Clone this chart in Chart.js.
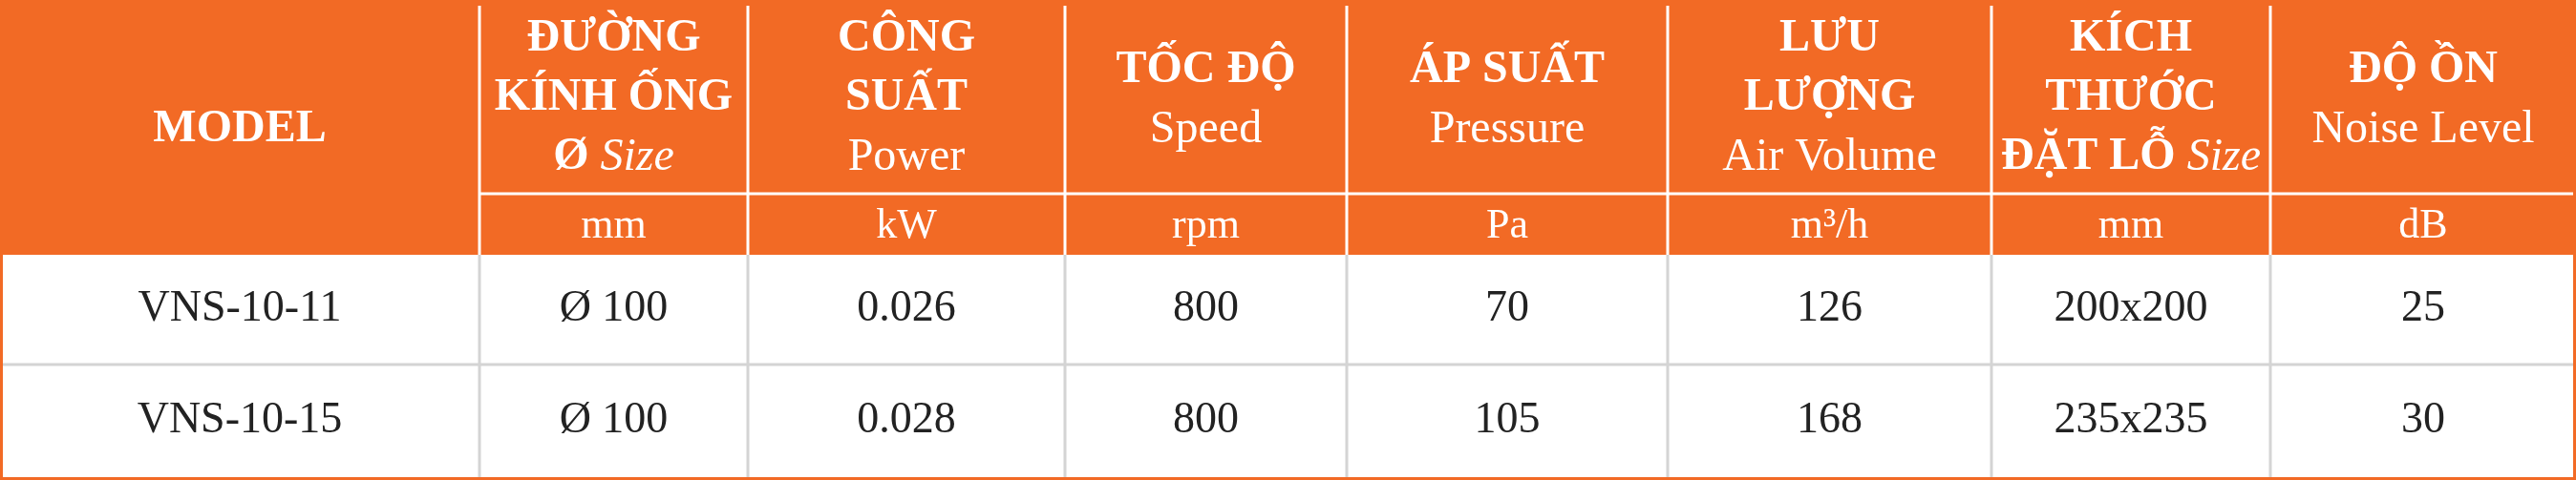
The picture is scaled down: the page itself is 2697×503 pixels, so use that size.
<!DOCTYPE html>
<html><head><meta charset="utf-8">
<script src="https://cdn.jsdelivr.net/npm/chart.js@4"></script>
<style>html,body{margin:0;padding:0;background:#fff}#w{width:2697px;height:503px}</style>
</head><body><div id="w"><canvas id="c"></canvas></div>
<script>
// header lines per column: segments "b:" bold, "r:" regular, "i:" italic
const headers = [
  [["b:MODEL"]],
  [["b:ĐƯỜNG"],["b:KÍNH ỐNG"],["b:Ø ","i:Size"]],
  [["b:CÔNG"],["b:SUẤT"],["r:Power"]],
  [["b:TỐC ĐỘ"],["r:Speed"]],
  [["b:ÁP SUẤT"],["r:Pressure"]],
  [["b:LƯU"],["b:LƯỢNG"],["r:Air Volume"]],
  [["b:KÍCH"],["b:THƯỚC"],["b:ĐẶT LỖ ","i:Size"]],
  [["b:ĐỘ ỒN"],["r:Noise Level"]]
];
const units = ["", "mm", "kW", "rpm", "Pa", "m³/h", "mm", "dB"];
const models = ["VNS-10-11", "VNS-10-15"];
const diameter = ["Ø 100", "Ø 100"];
const power = ["0.026", "0.028"];
const speed = ["800", "800"];
const pressure = ["70", "105"];
const airVolume = ["126", "168"];
const holeSize = ["200x200", "235x235"];
const noise = ["25", "30"];

// layout (pixel geometry, not data)
const colEdges = [0, 502, 783, 1115, 1410, 1746, 2085, 2377, 2697];
const ORANGE = "#F26A25";
const FONT = "'Liberation Serif', 'Times New Roman', serif";

const tablePlugin = {
  id: "table",
  afterDraw(chart) {
    const ctx = chart.ctx, xs = chart.scales.x, ys = chart.scales.y;
    const X = v => xs.getPixelForValue(v), Y = v => ys.getPixelForValue(v);
    const rows = models.map((m, i) => [m, diameter[i], power[i], speed[i], pressure[i], airVolume[i], holeSize[i], noise[i]]);
    ctx.save();
    ctx.fillStyle = ORANGE;
    ctx.fillRect(X(0), Y(0), X(2697) - X(0), Y(267) - Y(0));
    ctx.fillStyle = "#fff";
    ctx.fillRect(X(0), Y(267), X(2697) - X(0), Y(503) - Y(267));
    ctx.strokeStyle = "#fff"; ctx.lineWidth = 3;
    ctx.beginPath();
    for (let i = 1; i < colEdges.length - 1; i++) { ctx.moveTo(X(colEdges[i]), Y(6)); ctx.lineTo(X(colEdges[i]), Y(267)); }
    ctx.moveTo(X(colEdges[1]), Y(203)); ctx.lineTo(X(2697), Y(203));
    ctx.stroke();
    ctx.strokeStyle = "#d4d4d4"; ctx.lineWidth = 3;
    ctx.beginPath();
    for (let i = 1; i < colEdges.length - 1; i++) { ctx.moveTo(X(colEdges[i]), Y(267)); ctx.lineTo(X(colEdges[i]), Y(500)); }
    ctx.moveTo(X(0), Y(382)); ctx.lineTo(X(2697), Y(382));
    ctx.stroke();
    ctx.strokeStyle = ORANGE; ctx.lineWidth = 3;
    ctx.strokeRect(X(0) + 1.5, Y(0) + 1.5, X(2697) - X(0) - 3, Y(503) - Y(0) - 3);
    ctx.textBaseline = "middle";
    const size = 48;
    const fontFor = s => (s === "b" ? "bold " : s === "i" ? "italic " : "") + size + "px " + FONT;
    headers.forEach((lines, c) => {
      const cx = (X(colEdges[c]) + X(colEdges[c + 1])) / 2;
      let ysPos = lines.length === 3 ? [41, 103, 165] : lines.length === 2 ? [74, 136] : [136];
      lines.forEach((segs, li) => {
        const parts = segs.map(s => ({ st: s[0], t: s.slice(2) }));
        let w = 0;
        parts.forEach(p => { ctx.font = fontFor(p.st); p.w = ctx.measureText(p.t).width; w += p.w; });
        let x = cx - w / 2;
        ctx.fillStyle = "#fff"; ctx.textAlign = "left";
        parts.forEach(p => { ctx.font = fontFor(p.st); ctx.fillText(p.t, x, Y(ysPos[li])); x += p.w; });
      });
    });
    ctx.textAlign = "center";
    ctx.font = "44px " + FONT;
    units.forEach((u, c) => { ctx.fillStyle = "#fff"; ctx.fillText(u, (X(colEdges[c]) + X(colEdges[c + 1])) / 2, Y(237)); });
    const rowY = [324, 441];
    ctx.fillStyle = "#222";
    ctx.font = "46px " + FONT;
    rows.forEach((r, ri) => r.forEach((v, c) => ctx.fillText(v, (X(colEdges[c]) + X(colEdges[c + 1])) / 2, Y(rowY[ri]))));
    ctx.restore();
  }
};

new Chart(document.getElementById("c"), {
  type: "scatter",
  data: { datasets: [{ data: [] }] },
  options: {
    responsive: true, maintainAspectRatio: false, animation: false,
    layout: { padding: 0 },
    plugins: { legend: { display: false }, tooltip: { enabled: false } },
    scales: {
      x: { type: "linear", min: 0, max: 2697, display: false },
      y: { type: "linear", min: 0, max: 503, reverse: true, display: false }
    }
  },
  plugins: [tablePlugin]
});
</script></body></html>
